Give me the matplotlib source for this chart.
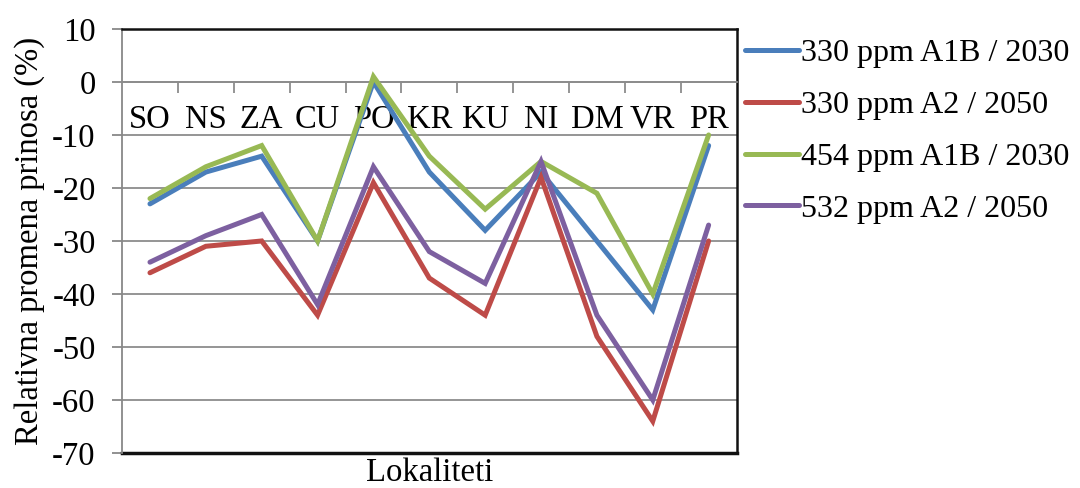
import matplotlib
matplotlib.use("Agg")
import matplotlib.pyplot as plt
import numpy as np

# Data
lokaliteti = ["SO", "NS", "ZA", "CU", "PO", "KR", "KU", "NI", "DM", "VR", "PR"]
s330_a1b_2030 = [-23, -17, -14, -30, 0, -17, -28, -17, -30, -43, -12]
s330_a2_2050 = [-36, -31, -30, -44, -19, -37, -44, -18, -48, -64, -30]
s454_a1b_2030 = [-22, -16, -12, -30, 1, -14, -24, -15, -21, -40, -10]
s532_a2_2050 = [-34, -29, -25, -42, -16, -32, -38, -15, -44, -60, -27]

series_labels = ["330 ppm A1B / 2030", "330 ppm A2 / 2050",
                 "454 ppm A1B / 2030", "532 ppm A2 / 2050"]
colors = ["#4A7EBB", "#BE4B48", "#98B954", "#7D60A0"]

plt.rcParams["font.family"] = ["Liberation Serif", "DejaVu Serif"]
plt.rcParams["axes.unicode_minus"] = False
FS = 23.5

fig = plt.figure(figsize=(10.8, 4.88), dpi=100)
ax = fig.add_axes([0.113, 0.0717, 0.569, 0.869])

x = np.arange(len(lokaliteti))
for vals, lab, c in zip([s330_a1b_2030, s330_a2_2050, s454_a1b_2030, s532_a2_2050],
                        series_labels, colors):
    ax.plot(x, vals, color=c, lw=3.6, label=lab, solid_joinstyle="miter",
            solid_capstyle="round", zorder=3)

ax.set_xlim(-0.5, len(lokaliteti) - 0.5)
ax.set_ylim(-70, 10)
ax.set_yticks(np.arange(-70, 11, 10))
ax.yaxis.grid(True, color="#8c8c8c", lw=1.3)
ax.set_axisbelow(True)

# category axis crosses at 0
ax.spines["bottom"].set_position(("data", 0))
ax.spines["bottom"].set_color("#8c8c8c")
ax.spines["bottom"].set_linewidth(1.3)
for s in ["top", "right"]:
    ax.spines[s].set_color("#111111")
    ax.spines[s].set_linewidth(1.8)
ax.spines["left"].set_color("#888888")
ax.spines["left"].set_linewidth(1.3)
ax.axhline(-70, color="#111111", lw=2.5, clip_on=False)

ax.set_xticks(x)
ax.set_xticklabels(lokaliteti, fontsize=FS)
ax.set_xticks(x[:-1] + 0.5, minor=True)
ax.tick_params(axis="x", which="major", length=0, pad=16)
ax.tick_params(axis="x", which="minor", length=8, width=1.3, color="#8c8c8c", direction="out")
ax.tick_params(axis="y", labelsize=FS, length=7, width=1.3, color="#888888", pad=12)

ax.set_ylabel("Relativna promena prinosa (%)", fontsize=FS, labelpad=5)
ax.text(0.5, -0.046, "Lokaliteti", transform=ax.transAxes, fontsize=FS,
        ha="center", va="center")

ax.legend(loc="upper left", bbox_to_anchor=(1.0, 0.995), frameon=False, fontsize=23,
          handlelength=1.7, handletextpad=0.08, labelspacing=0.7,
          borderaxespad=0.0, borderpad=0.25)

plt.savefig("out.png", dpi=100)
plt.close()
